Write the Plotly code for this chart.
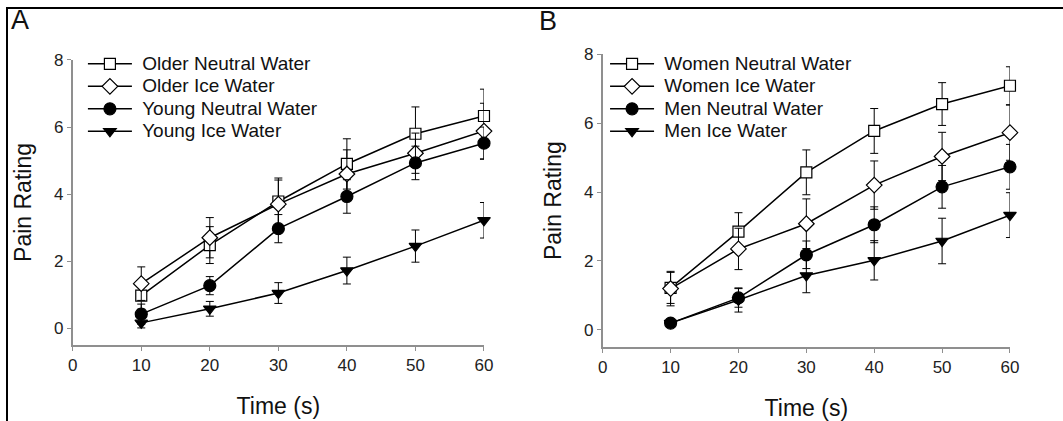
import plotly.graph_objects as go

# ---------------- data ----------------
time_s = [10, 20, 30, 40, 50, 60]

# Panel A
older_neutral = [0.97, 2.48, 3.78, 4.90, 5.80, 6.33]
older_neutral_err = [0.40, 0.55, 0.70, 0.75, 0.80, 0.80]
older_ice = [1.33, 2.70, 3.70, 4.60, 5.22, 5.88]
older_ice_err = [0.50, 0.60, 0.72, 0.72, 0.60, 0.83]
young_neutral = [0.42, 1.27, 2.97, 3.93, 4.93, 5.52]
young_neutral_err = [0.30, 0.27, 0.42, 0.50, 0.50, 0.48]
young_ice = [0.16, 0.58, 1.05, 1.72, 2.45, 3.22]
young_ice_err = [0.15, 0.22, 0.31, 0.40, 0.48, 0.53]

# Panel B
women_neutral = [1.22, 2.85, 4.57, 5.77, 6.55, 7.08]
women_neutral_err = [0.45, 0.55, 0.65, 0.65, 0.62, 0.55]
women_ice = [1.20, 2.35, 3.08, 4.20, 5.03, 5.72]
women_ice_err = [0.50, 0.60, 0.72, 0.70, 0.70, 0.80]
men_neutral = [0.20, 0.93, 2.18, 3.05, 4.15, 4.73]
men_neutral_err = [0.08, 0.27, 0.40, 0.52, 0.62, 0.65]
men_ice = [0.20, 0.87, 1.58, 2.02, 2.58, 3.33]
men_ice_err = [0.08, 0.35, 0.50, 0.57, 0.66, 0.65]

names_a = ["Older Neutral Water", "Older Ice Water", "Young Neutral Water", "Young Ice Water"]
names_b = ["Women Neutral Water", "Women Ice Water", "Men Neutral Water", "Men Ice Water"]
x_ticks = [0, 10, 20, 30, 40, 50, 60]
y_ticks = [0, 2, 4, 6, 8]

FONT = "Liberation Sans, Arial, sans-serif"
symbols = ["square", "diamond", "circle", "triangle-down"]
fills = ["white", "white", "black", "black"]
sizes = [11, 12, 12, 11]

fig = go.Figure()

def add_panel(series, errs, names, xa, ya, legend):
    for i, (vals, err, nm) in enumerate(zip(series, errs, names)):
        fig.add_trace(go.Scatter(
            x=time_s, y=vals, xaxis=xa, yaxis=ya, legend=legend,
            name='<span style="font-size:19px">\u00a0' + nm + '</span>',
            mode="lines+markers", cliponaxis=False,
            line=dict(color="black", width=1.5),
            marker=dict(symbol=symbols[i], size=sizes[i], color=fills[i],
                        line=dict(color="black", width=1.2)),
            error_y=dict(type="data", array=err, color="black", thickness=1, width=4),
        ))

add_panel([older_neutral, older_ice, young_neutral, young_ice],
          [older_neutral_err, older_ice_err, young_neutral_err, young_ice_err],
          names_a, "x", "y", "legend")
add_panel([women_neutral, women_ice, men_neutral, men_ice],
          [women_neutral_err, women_ice_err, men_neutral_err, men_ice_err],
          names_b, "x2", "y2", "legend2")

axis_common = dict(showgrid=False, zeroline=False, showline=True, linecolor="#8f8f8f",
                   linewidth=1.5, ticks="outside", ticklen=4, tickcolor="#8f8f8f",
                   automargin=False,
                   tickfont=dict(family=FONT, size=17, color="#222"))

xcommon = dict(axis_common, range=[0, 60], tickvals=x_ticks,
               title=dict(text="Time (s)", font=dict(family=FONT, size=23, color="#111"), standoff=24))
ycommon = dict(axis_common, range=[-0.5, 8], tickvals=y_ticks,
               title=dict(text="Pain Rating", font=dict(family=FONT, size=23, color="#111"), standoff=16))

legend_common = dict(font=dict(family=FONT, size=15, color="#111"), bgcolor="rgba(0,0,0,0)",
                     borderwidth=0, itemwidth=44, yanchor="top", xanchor="left",
                     tracegroupgap=0)

fig.update_layout(
    width=1063, height=421, autosize=False,
    margin=dict(l=0, r=0, t=0, b=0, pad=0, autoexpand=False),
    paper_bgcolor="white", plot_bgcolor="white",
    font=dict(family=FONT, color="#111"),
    xaxis=dict(xcommon, domain=[0.0684, 0.4553], anchor="y"),
    yaxis=dict(ycommon, domain=[0.1805, 0.8575], anchor="x"),
    xaxis2=dict(xcommon, domain=[0.567, 0.9501], anchor="y2"),
    yaxis2=dict(ycommon, domain=[0.1752, 0.8717], anchor="x2"),
    legend=dict(legend_common, x=0.078, y=0.887),
    legend2=dict(legend_common, x=0.5692, y=0.887),
    showlegend=True,
)

# significance brackets (span between the last points of the compared series)
sig_color = "#9a9a9a"
fig.add_shape(type="line", xref="x", yref="y", x0=62.0, x1=62.0,
              y0=young_neutral[-1], y1=young_ice[-1], line=dict(color=sig_color, width=1.5))
fig.add_annotation(xref="x", yref="y", x=63.8, y=(young_neutral[-1] + young_ice[-1]) / 2,
                   text="*", showarrow=False, font=dict(family=FONT, size=20, color="#111"),
                   xanchor="center", yanchor="middle")
fig.add_shape(type="line", xref="x2", yref="y2", x0=62.8, x1=62.8,
              y0=women_neutral[-1], y1=women_ice[-1], line=dict(color=sig_color, width=1.5))
fig.add_shape(type="line", xref="x2", yref="y2", x0=62.8, x1=62.8,
              y0=men_neutral[-1], y1=men_ice[-1], line=dict(color=sig_color, width=1.5))
fig.add_annotation(xref="x2", yref="y2", x=64.2, y=(women_neutral[-1] + women_ice[-1]) / 2,
                   text="**", showarrow=False, font=dict(family=FONT, size=20, color="#111"),
                   xanchor="left", yanchor="middle")

# panel letters
fig.add_annotation(xref="paper", yref="paper", x=9 / 1063, y=1 - 20 / 421, text="A",
                   showarrow=False, xanchor="left", yanchor="middle",
                   font=dict(family=FONT, size=27, color="#111"))
fig.add_annotation(xref="paper", yref="paper", x=537 / 1063, y=1 - 21 / 421, text="B",
                   showarrow=False, xanchor="left", yanchor="middle",
                   font=dict(family=FONT, size=27, color="#111"))

# frame lines (top and left)
fig.add_shape(type="line", xref="paper", yref="paper", x0=6 / 1063, x1=1,
              y0=1 - 8 / 421, y1=1 - 8 / 421, line=dict(color="black", width=2))
fig.add_shape(type="line", xref="paper", yref="paper", x0=7 / 1063, x1=7 / 1063,
              y0=0, y1=1 - 8 / 421, line=dict(color="black", width=2))

fig.write_html(
    "out.html",
    config={"displayModeBar": False},
    post_script="document.body.style.margin='0';document.body.style.padding='0';"
                "document.documentElement.style.overflow='hidden';",
)
